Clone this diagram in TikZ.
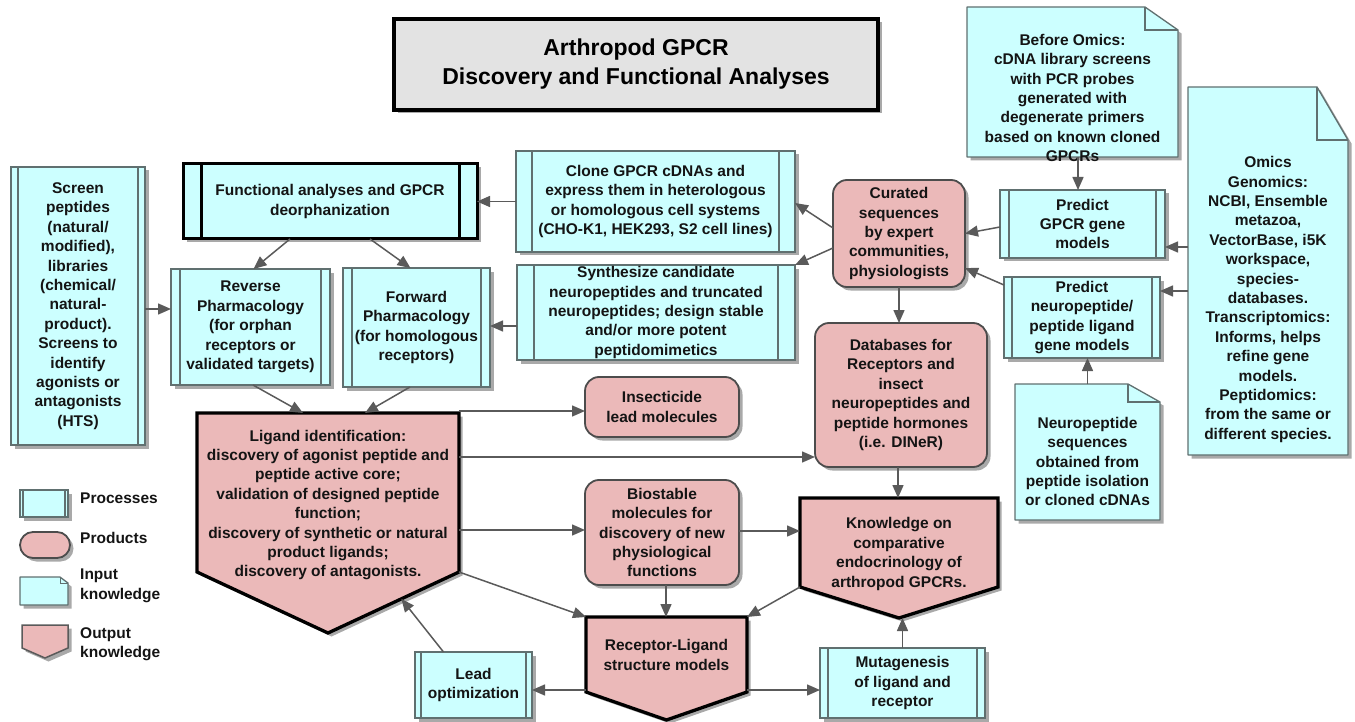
\documentclass[tikz,border=0pt]{standalone}
\usepackage{fontspec}
\setmainfont{Liberation Sans}
\usetikzlibrary{arrows.meta,shadows,calc}
\definecolor{cy}{HTML}{CCFFFF}
\definecolor{pk}{HTML}{EBB9B9}
\definecolor{tg}{HTML}{E3E3E3}
\definecolor{ln}{HTML}{5A5A5A}
\definecolor{bd}{HTML}{607070}
\tikzset{
  shd/.style={drop shadow={shadow xshift=3.5pt,shadow yshift=-3.5pt,fill=black!45,opacity=0.75}},
  txt/.style={font=\fontsize{15.5}{19.4}\selectfont\bfseries,align=center,inner sep=0pt,text=black!92},
  box/.style 2 args={inner sep=0pt,outer sep=0pt,minimum width=#1,minimum height=#2},
  proc/.style={txt,draw=bd,line width=1.3pt,fill=cy,shd,rectangle},
  inpk/.style={draw=bd,line width=1.3pt,fill=cy,shd,line join=round},
  foldl/.style={draw=bd,line width=1.3pt},
  prod/.style={txt,draw=ln!85!black,line width=1.8pt,fill=pk,shd,rounded corners=14pt},
  outk/.style={draw=black,line width=3.3pt,fill=pk,shd,line join=miter},
  bar/.style={draw=bd,line width=1.3pt},
  thickbar/.style={draw=black,line width=3pt},
  arr/.style={draw=ln,line width=1.5pt,-{Triangle[length=13pt,width=11pt]}},
}
\newcommand\mybars[3][bar]{%
  \draw[#1] ([xshift=#3]#2.north west) -- ([xshift=#3]#2.south west);
  \draw[#1] ([xshift=-#3]#2.north east) -- ([xshift=-#3]#2.south east);}
\begin{document}
\begin{tikzpicture}[x=1pt,y=-1pt]
\useasboundingbox (0,0) rectangle (1355,722);
% ---------- title ----------
\node[box={484pt}{91pt},draw=black,line width=4pt,fill=tg,shd,
      font=\fontsize{23}{29}\selectfont\bfseries,align=center] (title) at (636,64.5)
  {Arthropod GPCR\\Discovery and Functional Analyses};
% ---------- processes ----------
\node[proc,box={294pt}{75pt},draw=black,line width=3pt] (func) at (330,201.5)
  {Functional analyses and GPCR\\deorphanization};
\mybars[thickbar]{func}{18pt}
\node[proc,box={279pt}{101pt}] (clone) at (655.5,201.5)
  {Clone GPCR cDNAs and\\express them in heterologous\\or homologous cell systems\\(CHO-K1, HEK293, S2 cell lines)};
\mybars{clone}{16pt}
\node[proc,box={278pt}{95pt}] (synth) at (656,312.5)
  {Synthesize candidate\\neuropeptides and truncated\\neuropeptides; design stable\\and/or more potent\\peptidomimetics};
\mybars{synth}{17pt}
\node[proc,box={159pt}{116pt}] (rev) at (250.5,327)
  {Reverse\\Pharmacology\\(for orphan\\receptors or\\validated targets)};
\mybars{rev}{9pt}
\node[proc,box={147pt}{119pt}] (fwd) at (416.5,327.5)
  {Forward\\Pharmacology\\(for homologous\\receptors)};
\mybars{fwd}{9pt}
\node[proc,box={134pt}{278pt}] (screen) at (78,306)
  {Screen\\peptides\\(natural/\\modified),\\libraries\\(chemical/\\natural-\\product).\\Screens to\\identify\\agonists or\\antagonists\\(HTS)};
\mybars{screen}{7pt}
\node[proc,box={165pt}{68pt}] (pgpcr) at (1082.5,224)
  {Predict\\GPCR gene\\models};
\mybars{pgpcr}{9pt}
\node[proc,box={156pt}{81pt}] (pneuro) at (1082,317.5)
  {Predict\\neuropeptide/\\peptide ligand\\gene models};
\mybars{pneuro}{8pt}
\node[proc,box={165pt}{70pt}] (mut) at (902.5,683)
  {Mutagenesis\\of ligand and\\receptor};
\mybars{mut}{8pt}
\node[proc,box={117pt}{66pt}] (lead) at (473.5,685)
  {Lead\\optimization};
\mybars{lead}{6pt}
% ---------- products ----------
\node[prod,box={132pt}{107pt}] (cur) at (899,233.5)
  {Curated\\sequences\\by expert\\communities,\\physiologists};
\node[prod,box={172pt}{144pt}] (db) at (901,395)
  {Databases for\\Receptors and\\insect\\neuropeptides and\\peptide hormones\\(i.e. DINeR)};
\node[prod,box={154pt}{60pt}] (ins) at (662,407)
  {Insecticide\\lead molecules};
\node[prod,box={154pt}{105pt}] (bio) at (662,532.5)
  {Biostable\\molecules for\\discovery of new\\physiological\\functions};
% ---------- input knowledge (documents) ----------
\node[box={211pt}{150pt}] (bef) at (1072.5,82) {};
\draw[inpk] (bef.south west) -- (bef.north west) -- ($(bef.north east)+(-33,0)$)
  -- ($(bef.north east)+(0,23)$) -- (bef.south east) -- cycle;
\draw[foldl] ($(bef.north east)+(-33,0)$) -- ($(bef.north east)+(-33,23)$) -- ($(bef.north east)+(0,23)$);
\node[txt] (bef-t) at (1072.5,98)
  {Before Omics:\\cDNA library screens\\with PCR probes\\generated with\\degenerate primers\\based on known cloned\\GPCRs};
\node[box={160pt}{368pt}] (omics) at (1268,271) {};
\draw[inpk] (omics.south west) -- (omics.north west) -- ($(omics.north east)+(-31,0)$)
  -- ($(omics.north east)+(0,53)$) -- (omics.south east) -- cycle;
\draw[foldl] ($(omics.north east)+(-31,0)$) -- ($(omics.north east)+(-31,53)$) -- ($(omics.north east)+(0,53)$);
\node[txt] (omics-t) at (1268,299.5)
  {Omics\\Genomics:\\NCBI, Ensemble\\metazoa,\\VectorBase, i5K\\workspace,\\species-\\databases.\\Transcriptomics:\\Informs, helps\\refine gene\\models.\\Peptidomics:\\from the same or\\different species.};
\node[box={145pt}{136pt}] (nseq) at (1087.5,452) {};
\draw[inpk] (nseq.south west) -- (nseq.north west) -- ($(nseq.north east)+(-32,0)$)
  -- ($(nseq.north east)+(0,18)$) -- (nseq.south east) -- cycle;
\draw[foldl] ($(nseq.north east)+(-32,0)$) -- ($(nseq.north east)+(-32,18)$) -- ($(nseq.north east)+(0,18)$);
\node[txt] (nseq-t) at (1087.5,461.5)
  {Neuropeptide\\sequences\\obtained from\\peptide isolation\\or cloned cDNAs};
% ---------- output knowledge (pentagons) ----------
\node[box={262pt}{220pt}] (lig) at (328,523) {};
\coordinate (lig-se) at ($(lig.north east)+(0,159)$);
\coordinate (lig-sw) at ($(lig.north west)+(0,159)$);
\draw[outk] (lig.north west) -- (lig.north east) -- (lig-se) -- (lig.south) -- (lig-sw) -- cycle;
\node[txt] (lig-t) at (328,505)
  {Ligand identification:\\discovery of agonist peptide and\\peptide active core;\\validation of designed peptide\\function;\\discovery of synthetic or natural\\product ligands;\\discovery of antagonists.};
\node[box={198pt}{120pt}] (know) at (899,558) {};
\coordinate (know-se) at ($(know.north east)+(0,89)$);
\coordinate (know-sw) at ($(know.north west)+(0,89)$);
\draw[outk] (know.north west) -- (know.north east) -- (know-se) -- (know.south) -- (know-sw) -- cycle;
\node[txt] (know-t) at (899,554)
  {Knowledge on\\comparative\\endocrinology of\\arthropod GPCRs.};
\node[box={161pt}{103pt}] (rec) at (666.5,668.5) {};
\coordinate (rec-se) at ($(rec.north east)+(0,75)$);
\coordinate (rec-sw) at ($(rec.north west)+(0,75)$);
\draw[outk] (rec.north west) -- (rec.north east) -- (rec-se) -- (rec.south) -- (rec-sw) -- cycle;
\node[txt] (rec-t) at (666.5,655)
  {Receptor-Ligand\\structure models};
% ---------- legend ----------
\node[proc,box={48pt}{27pt}] (lgp) at (44,503.5) {};
\mybars{lgp}{3pt}
\node[prod,box={50pt}{26pt},rounded corners=13pt] (lgr) at (45,545) {};
\node[box={48pt}{28pt}] (lgi) at (44,591) {};
\draw[inpk] (lgi.south west) -- (lgi.north west) -- ($(lgi.north east)+(-8,0)$)
  -- ($(lgi.north east)+(0,6)$) -- (lgi.south east) -- cycle;
\draw[foldl,line width=0.8pt] ($(lgi.north east)+(-8,0)$) -- ($(lgi.north east)+(-8,6)$) -- ($(lgi.north east)+(0,6)$);
\node[box={46pt}{33pt}] (lgo) at (45,641.5) {};
\draw[outk,draw=ln,line width=1.5pt] (lgo.north west) -- (lgo.north east) -- ($(lgo.north east)+(0,23)$)
  -- (lgo.south) -- ($(lgo.north west)+(0,23)$) -- cycle;
\node[txt,anchor=west,align=left] (lgp-t) at (80,498) {Processes};
\node[txt,anchor=west,align=left] (lgr-t) at (80,538) {Products};
\node[txt,anchor=west,align=left] (lgi-t) at (80,586) {Input\\knowledge};
\node[txt,anchor=west,align=left] (lgo-t) at (80,644) {Output\\knowledge};
% ---------- connectors ----------
\draw[arr] (clone.west) -- (func.east);
\draw[arr] ([xshift=-40pt]func.south) -- ([xshift=3pt]rev.north);
\draw[arr] ([xshift=40pt]func.south) -- ([xshift=-6pt]fwd.north);
\coordinate (c4) at ($(screen.east)+(0,3)$);
\draw[arr] (c4) -- (c4 -| rev.west);
\coordinate (c5) at ($(synth.west)+(0,13.5)$);
\draw[arr] (c5) -- (c5 -| fwd.east);
\draw[arr] ($(cur.west)+(0,-5.5)$) -- ($(clone.east)+(0,1.5)$);
\draw[arr] ($(cur.west)+(0,14.5)$) -- (synth.north east);
\draw[arr] ($(pgpcr.west)+(0,3)$) -- (cur.east);
\draw[arr] ($(pneuro.north west)+(0,8)$) -- ($(cur.east)+(0,34.5)$);
\coordinate (c10) at ($(bef.south)+(5.5,0)$);
\draw[arr] (c10) -- (c10 |- pgpcr.north);
\coordinate (c11) at ($(pgpcr.east)+(0,23)$);
\draw[arr] (c11 -| omics.west) -- (c11);
\coordinate (c12) at ($(pneuro.east)+(0,-26.5)$);
\draw[arr] (c12 -| omics.west) -- (c12);
\draw[arr] (nseq.north) -- (nseq.north |- pneuro.south);
\draw[arr] (cur.south) -- (cur.south |- db.north);
\coordinate (c15) at ($(db.south)+(-3,0)$);
\draw[arr] (c15) -- (c15 |- know.north);
\draw[arr] ($(rev.south)+(2.5,0)$) -- ($(lig.north)+(-25,0)$);
\draw[arr] ($(fwd.south)+(-6.5,0)$) -- ($(lig.north)+(37,0)$);
\coordinate (c18) at ($(lig.north east)+(0,-2)$);
\draw[arr] (c18) -- (c18 -| ins.west);
\coordinate (c19) at ($(lig.north east)+(0,44)$);
\draw[arr] (c19) -- (c19 -| db.west);
\coordinate (c20) at ($(lig.north east)+(0,117)$);
\draw[arr] (c20) -- (c20 -| bio.west);
\draw[arr] (lig-se) -- (rec.north west);
\coordinate (c22) at ($(bio.east)+(0,-1.5)$);
\draw[arr] (c22) -- (c22 -| know.west);
\coordinate (c23) at ($(bio.south)+(4,0)$);
\draw[arr] (c23) -- (c23 |- rec.north);
\draw[arr] (know-sw) -- (rec.north east);
\coordinate (c25) at ($(rec.west)+(0,21.5)$);
\draw[arr] (c25) -- (c25 -| lead.east);
\coordinate (c26) at ($(rec.east)+(0,21.5)$);
\draw[arr] (c26) -- (c26 -| mut.west);
\draw[arr] (mut.north) -- (mut.north |- know.south);
\draw[arr] ($(lead.north)+(-30,0)$) -- ($(lig-se)!0.44!(lig.south)$);
\end{tikzpicture}
\end{document}
